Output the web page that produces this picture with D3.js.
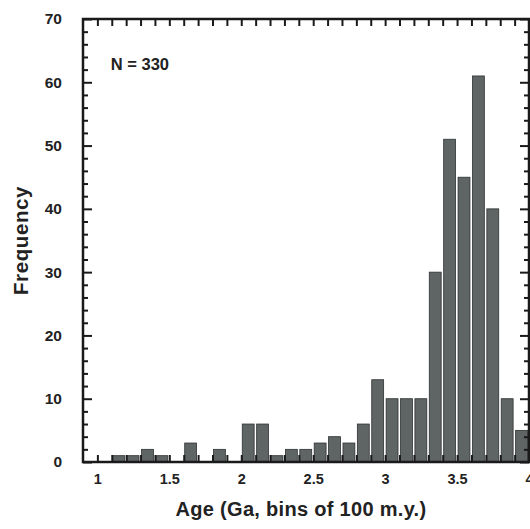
<!DOCTYPE html>
<html>
<head>
<meta charset="utf-8">
<script src="https://cdn.jsdelivr.net/npm/d3@7"></script>
<style>
  body { margin: 0; background: #fff; }
  text { font-family: "Liberation Sans", Arial, sans-serif; font-weight: bold; fill: #222; }
</style>
</head>
<body>
<div id="chart"></div>
<script>
// bin starts (Ga), 100 m.y. bins
const binStarts = [1.0, 1.1, 1.2, 1.3, 1.4, 1.5, 1.6, 1.7, 1.8, 1.9,
                   2.0, 2.1, 2.2, 2.3, 2.4, 2.5, 2.6, 2.7, 2.8, 2.9,
                   3.0, 3.1, 3.2, 3.3, 3.4, 3.5, 3.6, 3.7, 3.8, 3.9]
const counts = [0, 1, 1, 2, 1, 0, 3, 0, 2, 0,
                6, 6, 1, 2, 2, 3, 4, 3, 6, 13,
                10, 10, 10, 30, 51, 45, 61, 40, 10, 5]
const xTickLabels = [1, 1.5, 2, 2.5, 3, 3.5, 4]
const yTickLabels = [0, 10, 20, 30, 40, 50, 60, 70]
const binWidth = 0.1

const totalWidth = 530
const totalHeight = 529
const margin = { top: 19, right: 1, bottom: 67, left: 83 }
const width = totalWidth - margin.left - margin.right
const height = totalHeight - margin.top - margin.bottom

let svg = d3.select('#chart')
    .append('svg')
    .attr('width', totalWidth)
    .attr('height', totalHeight)

let g = svg.append('g')
    .attr('transform', `translate(${margin.left},${margin.top})`)

let x = d3.scaleLinear().domain([0.9, 4]).range([0, width])
let y = d3.scaleLinear().domain([0, 70]).range([height, 0])

// bars
let bins = binStarts.map((s, i) => ({ x0: s, x1: s + binWidth, n: counts[i] }))
g.selectAll('rect.bar')
    .data(bins.filter(d => d.n > 0))
    .enter()
    .append('rect')
    .attr('class', 'bar')
    .attr('x', d => x(d.x0) + 1)
    .attr('width', d => x(d.x1) - x(d.x0) - 2.5)
    .attr('y', d => y(d.n))
    .attr('height', d => y(0) - y(d.n))
    .attr('fill', '#5f6464')
    .attr('stroke', '#2e3232')
    .attr('stroke-width', 0.8)

// minor ticks along x (every 0.1) and y (every 2)
let xMinor = d3.range(10, 41).map(v => v / 10)
let yMinor = d3.range(0, 71, 2)

g.append('g')
    .attr('transform', `translate(0,${height})`)
    .call(d3.axisBottom(x).tickValues(xMinor).tickSize(-7).tickFormat(''))
g.append('g')
    .call(d3.axisTop(x).tickValues(xMinor).tickSize(-7).tickFormat(''))
g.append('g')
    .call(d3.axisLeft(y).tickValues(yMinor.filter(v => v % 10 !== 0)).tickSize(-5).tickFormat(''))
g.append('g')
    .attr('class', 'ylab')
    .call(d3.axisLeft(y).tickValues(yTickLabels).tickSize(-9).tickPadding(21).tickFormat(d3.format('d')))
g.append('g')
    .attr('transform', `translate(${width},0)`)
    .call(d3.axisRight(y).tickValues(yMinor.filter(v => v % 10 !== 0)).tickSize(-5).tickFormat(''))
g.append('g')
    .attr('transform', `translate(${width},0)`)
    .call(d3.axisRight(y).tickValues(yTickLabels).tickSize(-9).tickFormat(''))
g.append('g')
    .attr('class', 'xlab')
    .attr('transform', `translate(0,${height})`)
    .call(d3.axisBottom(x).tickValues(xTickLabels).tickSize(0).tickPadding(12).tickFormat(d3.format('')))

g.selectAll('.domain').remove()
g.selectAll('.tick line').attr('stroke', '#1a1a1a').attr('stroke-width', 2)
g.selectAll('.tick text').style('font-family', '"Liberation Sans", Arial, sans-serif')
    .style('font-weight', 'bold').attr('fill', '#222')
g.selectAll('.ylab .tick text').style('font-size', '15.5px')
g.selectAll('.xlab .tick text').style('font-size', '14.5px')

// frame
g.append('rect')
    .attr('x', 0).attr('y', 0)
    .attr('width', width).attr('height', height)
    .attr('fill', 'none')
    .attr('stroke', '#1a1a1a')
    .attr('stroke-width', 2.5)

g.append('text')
    .attr('x', x(1.1) - 1)
    .attr('y', 51)
    .style('font-size', '16.5px')
    .text('N = 330')

svg.append('text')
    .attr('transform', `translate(28,${margin.top + height / 2}) rotate(-90)`)
    .attr('text-anchor', 'middle')
    .style('font-size', '20.5px')
    .style('letter-spacing', '0.6px')
    .text('Frequency')

svg.append('text')
    .attr('x', 301)
    .attr('y', 516)
    .attr('text-anchor', 'middle')
    .style('font-size', '20px')
    .style('letter-spacing', '0.3px')
    .text('Age (Ga, bins of 100 m.y.)')
</script>
</body>
</html>
